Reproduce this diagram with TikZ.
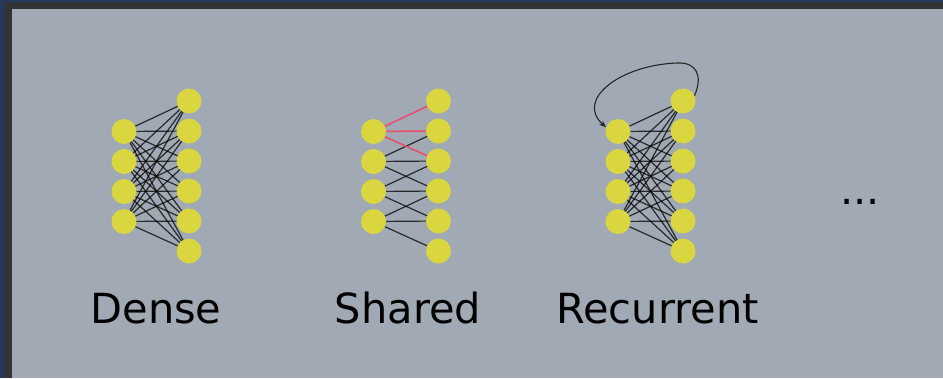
\documentclass[tikz,border=0pt]{standalone}
\usepackage{fontspec}
\setmainfont{DejaVu Sans}
\usetikzlibrary{arrows.meta}
\definecolor{bgc}{HTML}{A0A9B4}
\definecolor{framec}{HTML}{333333}
\definecolor{edgeblue}{HTML}{23395D}
\definecolor{neuronc}{HTML}{D9D63F}
\definecolor{sharedc}{HTML}{E8506E}
\pgfdeclarelayer{back}
\pgfdeclarelayer{edges}
\pgfsetlayers{back,edges,main}
\begin{document}
\begin{tikzpicture}[x=1pt,y=-1pt,
  neuron/.style={circle,fill=neuronc,minimum size=25pt,inner sep=0pt},
  link/.style={draw=black,opacity=0.75,line width=1.2pt},
  sharedlink/.style={draw=sharedc,line width=1.6pt},
  caption/.style={font=\fontsize{41.5}{41.5}\selectfont,anchor=base,text=black}]
\useasboundingbox (0,0) rectangle (943,378);
\begin{pgfonlayer}{back}
  \fill[edgeblue] (0,0) rectangle (943,378);
  \fill[framec] (4,1.5) rectangle (943,378);
  \fill[bgc] (11.5,9) rectangle (943,378);
\end{pgfonlayer}
% Dense
\foreach \i in {0,...,3} \node[neuron] (dL\i) at (124,{131.5+30*\i}) {};
\foreach \j in {0,...,5} \node[neuron] (dR\j) at (189,{101+30*\j}) {};
% Shared
\foreach \i in {0,...,3} \node[neuron] (sL\i) at (373.5,{131.5+30*\i}) {};
\foreach \j in {0,...,5} \node[neuron] (sR\j) at (438.5,{101+30*\j}) {};
% Recurrent
\foreach \i in {0,...,3} \node[neuron] (rL\i) at (618,{131.5+30*\i}) {};
\foreach \j in {0,...,5} \node[neuron] (rR\j) at (683,{101+30*\j}) {};
\begin{pgfonlayer}{edges}
  \foreach \i in {0,...,3} \foreach \j in {0,...,5} {
    \draw[link] (dL\i.center) -- (dR\j.center);
    \draw[link] (rL\i.center) -- (rR\j.center);
  }
  \foreach \i in {1,...,3} {
    \pgfmathtruncatemacro{\ja}{\i+1}
    \pgfmathtruncatemacro{\jb}{\i+2}
    \draw[link] (sL\i.center) -- (sR\i.center);
    \draw[link] (sL\i.center) -- (sR\ja.center);
    \draw[link] (sL\i.center) -- (sR\jb.center);
  }
  \draw[sharedlink] (sL0.center) -- (sR0.center);
  \draw[sharedlink] (sL0.center) -- (sR1.center);
  \draw[sharedlink] (sL0.center) -- (sR2.center);
\end{pgfonlayer}
\coordinate (top) at (677,63);
\draw[black!85,line width=1.1pt,-{Stealth[length=7pt,width=5.5pt]}]
  (rR0.25) .. controls (703,76) and (697,62) .. (top)
  .. controls (620,65) and (575,100) .. (rL0.160);
\node[caption] (cd) at (156,323) {Dense};
\node[caption] (cs) at (408,323) {Shared};
\node[caption] (cr) at (657.5,323) {Recurrent};
\node[caption] (cm) at (860,204) {...};
\end{tikzpicture}
\end{document}
